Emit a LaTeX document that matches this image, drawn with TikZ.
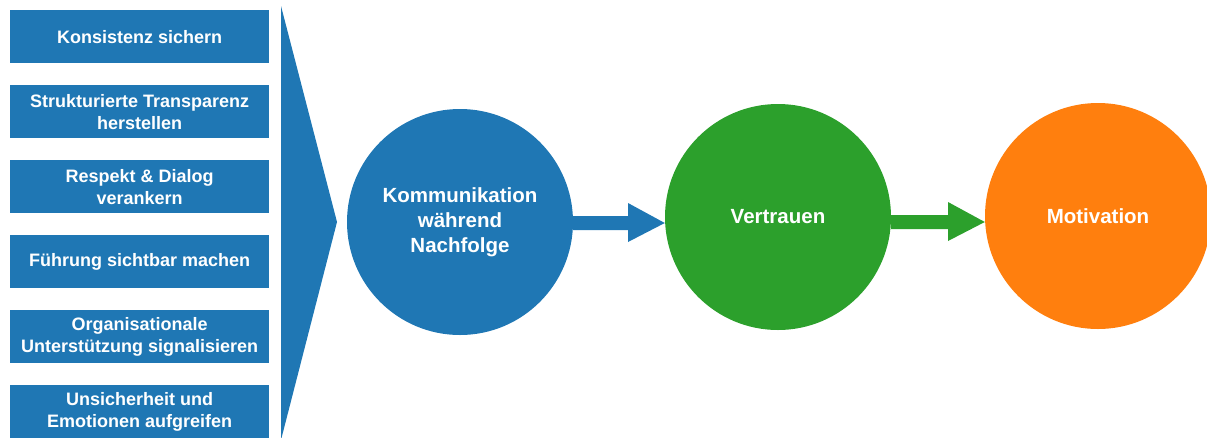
\documentclass[tikz,border=0pt]{standalone}
\usepackage{fontspec}
\setmainfont{Liberation Sans}
\definecolor{tabblue}{HTML}{1F77B4}
\definecolor{tabgreen}{HTML}{2CA02C}
\definecolor{taborange}{HTML}{FF7F0E}
\begin{document}
\begin{tikzpicture}[x=1pt,y=-1pt,
  factor/.style={fill=tabblue, minimum width=259pt, minimum height=53pt, inner sep=0pt,
    text=white, font=\fontsize{18}{22}\selectfont\bfseries, align=center, anchor=north west},
  stage/.style={circle, minimum size=226pt, inner sep=0pt, text=white,
    font=\fontsize{20.5}{25}\selectfont\bfseries, align=center}]
\useasboundingbox (0,0) rectangle (1207,437);
\clip (0,0) rectangle (1207,437);
% factor boxes
\node[factor] (f1) at (10,10) {Konsistenz sichern};
\node[factor] (f2) at (10,85) {Strukturierte Transparenz\\herstellen};
\node[factor] (f3) at (10,160) {Respekt \& Dialog\\verankern};
\node[factor] (f4) at (10,235) {Führung sichtbar machen};
\node[factor] (f5) at (10,310) {Organisationale\\Unterstützung signalisieren};
\node[factor] (f6) at (10,385) {Unsicherheit und\\Emotionen aufgreifen};
% funnel chevron
\fill[tabblue] (281,6) -- (337,222) -- (281,440) -- cycle;
% stages
\node[stage, fill=tabblue] (k) at (460,222) {Kommunikation\\während\\Nachfolge};
\node[stage, fill=tabgreen] (v) at (778,217) {Vertrauen};
\node[stage, fill=taborange] (m) at (1098,216) {Motivation};
% block arrows between stages
\fill[tabblue] (k.east |- 0,216) -- (628,216) -- (628,203) -- (v.west |- 0,223) -- (628,242) -- (628,230) -- (k.east |- 0,230) -- cycle;
\fill[tabgreen] (v.east |- 0,215) -- (948,215) -- (948,202) -- (m.west |- 0,222) -- (948,241) -- (948,229) -- (v.east |- 0,229) -- cycle;
\end{tikzpicture}
\end{document}
